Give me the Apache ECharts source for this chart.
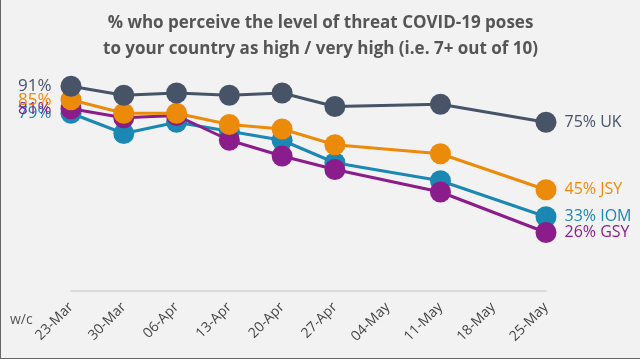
<!DOCTYPE html>
<html>
<head>
<meta charset="utf-8">
<script src="https://cdn.jsdelivr.net/npm/echarts@6/dist/echarts.min.js"></script>
<style>
  html, body { margin: 0; padding: 0; background: #f2f2f2; }
  #main { width: 639px; height: 358px; border-left: 1px solid #666; border-bottom: 1px solid #666; }
</style>
</head>
<body>
<div id="main"></div>
<script>
// weeks (w/c)
var weeks = ['23-Mar', '30-Mar', '06-Apr', '13-Apr', '20-Apr', '27-Apr', '04-May', '11-May', '18-May', '25-May'];
// no survey for 04-May and 18-May
var uk  = [91, 87, 88, 87, 88, 82, '-', 83, '-', 75];
var jsy = [85, 79, 79, 74, 72, 65, '-', 61, '-', 45];
var iom = [79, 70, 75, 71, 67, 57, '-', 49, '-', 33];
var gsy = [81, 77, 78, 67, 60, 54, '-', 44, '-', 26];

var names  = ['UK', 'JSY', 'IOM', 'GSY'];
var values = [uk, jsy, iom, gsy];
var colors = ['#475467', '#ec8a0a', '#1a88b2', '#8b1c8b'];

function makeData(arr, name) {
    var last = arr.length - 1;
    return arr.map(function(v, i) {
        if (i === 0) {
            return { value: v, label: { show: true, position: 'left', distance: 9, fontSize: 17, formatter: '{c}%' } };
        }
        if (i === last) {
            return { value: v, label: { show: true, position: 'right', distance: 8, formatter: '{c}% ' + name } };
        }
        return v;
    });
}

var series = [];
for (var k = 0; k < names.length; k++) {
    series.push({
        name: names[k],
        type: 'line',
        data: makeData(values[k], names[k]),
        connectNulls: true,
        symbol: 'circle',
        symbolSize: 21,
        itemStyle: { color: colors[k] },
        lineStyle: { color: colors[k], width: 3 },
        label: { color: colors[k], fontSize: 16, fontFamily: 'Open Sans' },
        z: 10 - k
    });
}
// stacking order in the picture: JSY over GSY over IOM
series[1].z = 9;
series[2].z = 7;
series[3].z = 8;

var myChart = echarts.init(document.getElementById('main'));
myChart.setOption({
    backgroundColor: '#f2f2f2',
    animation: false,
    title: {
        text: '% who perceive the level of threat COVID-19 poses\nto your country as high / very high (i.e. 7+ out of 10)',
        left: 'center',
        top: 5,
        textStyle: {
            fontFamily: 'Open Sans',
            fontWeight: 'bold',
            fontSize: 17,
            color: '#555',
            lineHeight: 26
        }
    },
    grid: { left: 70, right: 94, top: 66, bottom: 67 },
    xAxis: {
        type: 'category',
        data: weeks,
        boundaryGap: false,
        offset: 6,
        axisLine: { lineStyle: { color: '#d4d4d4', width: 1.5 } },
        axisTick: { show: false },
        axisLabel: {
            rotate: 45,
            interval: 0,
            margin: 8,
            color: '#444',
            fontSize: 14,
            fontFamily: 'Open Sans'
        }
    },
    yAxis: {
        type: 'value',
        min: 0,
        max: 100,
        show: false,
        splitLine: { show: false }
    },
    graphic: [{
        type: 'text',
        left: 9,
        top: 313,
        style: { text: 'w/c', fill: '#555', fontSize: 14, fontFamily: 'Open Sans' }
    }],
    series: series
});
</script>
</body>
</html>
